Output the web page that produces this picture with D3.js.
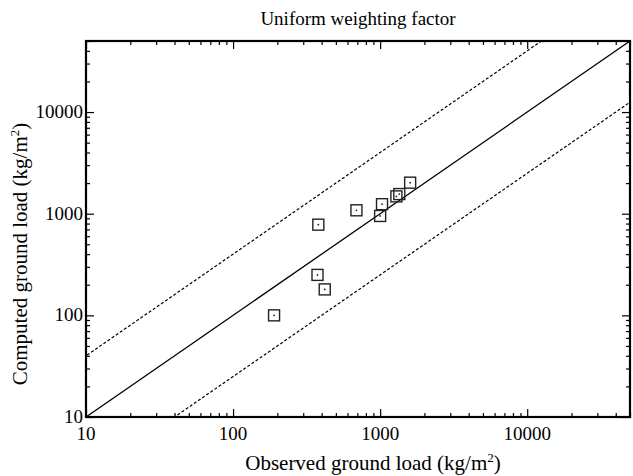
<!DOCTYPE html>
<html>
<head>
<meta charset="utf-8">
<script src="https://cdn.jsdelivr.net/npm/d3@7"></script>
<style>
  body { margin: 0; background: #fff; }
  #chart text { font-family: "Liberation Serif", "Times New Roman", serif; }
</style>
</head>
<body>
<svg id="chart" width="633" height="476"></svg>
<script>
// observed vs computed ground load (kg/m2)
const observed = [190, 380, 375, 420, 690, 1030, 1000, 1290, 1350, 1600];
const computed = [100, 780, 250, 180, 1080, 1240, 950, 1480, 1560, 2020];
const majorTicks = [10, 100, 1000, 10000];
const domain = [10, 50000];
const factor = 4;

const svg = d3.select("#chart");
const margin = { left: 86, right: 3, top: 41, bottom: 59 };
const width = 633, height = 476;

const x = d3.scaleLog().domain(domain).range([margin.left, width - margin.right]);
const y = d3.scaleLog().domain(domain).range([height - margin.bottom, margin.top]);

const x0 = margin.left, x1 = width - margin.right;
const y0 = height - margin.bottom, y1 = margin.top;

// minor ticks: 2..9 of each decade
const minorTicks = [];
for (let d = 10; d < 50000; d *= 10) {
    for (let k = 2; k <= 9; k++) {
        const v = k * d;
        if (v <= 50000) minorTicks.push(v);
    }
}

svg.append("defs").append("clipPath").attr("id", "plot-clip")
    .append("rect")
    .attr("x", x0).attr("y", y1)
    .attr("width", x1 - x0).attr("height", y0 - y1);

const g = svg.append("g").attr("clip-path", "url(#plot-clip)");

// 1:1 line and factor-of-4 lines
const line = d3.line().x(d => x(d[0])).y(d => y(d[1]));
const lineX = [1, 1e6];
g.append("path")
    .datum(lineX.map(v => [v, v]))
    .attr("d", line)
    .attr("fill", "none")
    .attr("stroke", "#000")
    .attr("stroke-width", 1.3);
[factor, 1 / factor].forEach(f => {
    g.append("path")
        .datum(lineX.map(v => [v, v * f]))
        .attr("d", line)
        .attr("fill", "none")
        .attr("stroke", "#000")
        .attr("stroke-width", 1.2)
        .attr("stroke-dasharray", "3,2");
});

// data points
const pts = observed.map((o, i) => ({ o, c: computed[i] }));
const s = 11;
const pg = svg.append("g");
pg.selectAll("rect")
    .data(pts)
    .join("rect")
    .attr("x", d => x(d.o) - s / 2)
    .attr("y", d => y(d.c) - s / 2)
    .attr("width", s)
    .attr("height", s)
    .attr("fill", "none")
    .attr("stroke", "#222")
    .attr("stroke-width", 1.4);
pg.selectAll("circle")
    .data(pts)
    .join("circle")
    .attr("cx", d => x(d.o))
    .attr("cy", d => y(d.c))
    .attr("r", 0.9)
    .attr("fill", "#222");

// inward ticks on all four sides
function tickAxis(axisFn, scale, tx, ty, ticks, len) {
    const a = axisFn(scale).tickValues(ticks).tickSizeInner(len).tickSizeOuter(0).tickFormat("");
    const sel = svg.append("g").attr("transform", `translate(${tx},${ty})`).call(a);
    sel.select(".domain").remove();
    sel.selectAll(".tick line").attr("stroke", "#000").attr("stroke-width", 1.2);
    return sel;
}

tickAxis(d3.axisTop, x, 0, y0, majorTicks, 8);
tickAxis(d3.axisTop, x, 0, y0, minorTicks, 4);
tickAxis(d3.axisBottom, x, 0, y1, majorTicks, 8);
tickAxis(d3.axisBottom, x, 0, y1, minorTicks, 4);
tickAxis(d3.axisRight, y, x0, 0, majorTicks, 8);
tickAxis(d3.axisRight, y, x0, 0, minorTicks, 4);
tickAxis(d3.axisLeft, y, x1, 0, majorTicks, 8);
tickAxis(d3.axisLeft, y, x1, 0, minorTicks, 4);

// tick labels
svg.append("g").selectAll("text")
    .data(majorTicks)
    .join("text")
    .attr("x", d => x(d))
    .attr("y", y0 + 23)
    .attr("text-anchor", "middle")
    .attr("font-size", 19)
    .text(d => d);
svg.append("g").selectAll("text")
    .data(majorTicks)
    .join("text")
    .attr("x", x0 - 3)
    .attr("y", d => y(d) + 6)
    .attr("text-anchor", "end")
    .attr("font-size", 19)
    .text(d => d);

// frame
svg.append("rect")
    .attr("x", x0).attr("y", y1)
    .attr("width", x1 - x0).attr("height", y0 - y1)
    .attr("fill", "none")
    .attr("stroke", "#000")
    .attr("stroke-width", 2.2);

// title and axis labels
svg.append("text")
    .attr("x", (x0 + x1) / 2)
    .attr("y", 25)
    .attr("text-anchor", "middle")
    .attr("font-size", 19)
    .text("Uniform weighting factor");

const xl = svg.append("text")
    .attr("x", 373)
    .attr("y", 470)
    .attr("text-anchor", "middle")
    .attr("font-size", 21);
xl.append("tspan").text("Observed ground load (kg/m");
xl.append("tspan").attr("font-size", 13).attr("dy", -8).text("2");
xl.append("tspan").attr("dy", 8).text(")");

const yl = svg.append("text")
    .attr("transform", "translate(27,254) rotate(-90)")
    .attr("text-anchor", "middle")
    .attr("font-size", 21);
yl.append("tspan").text("Computed ground load (kg/m");
yl.append("tspan").attr("font-size", 13).attr("dy", -8).text("2");
yl.append("tspan").attr("dy", 8).text(")");
</script>
</body>
</html>
